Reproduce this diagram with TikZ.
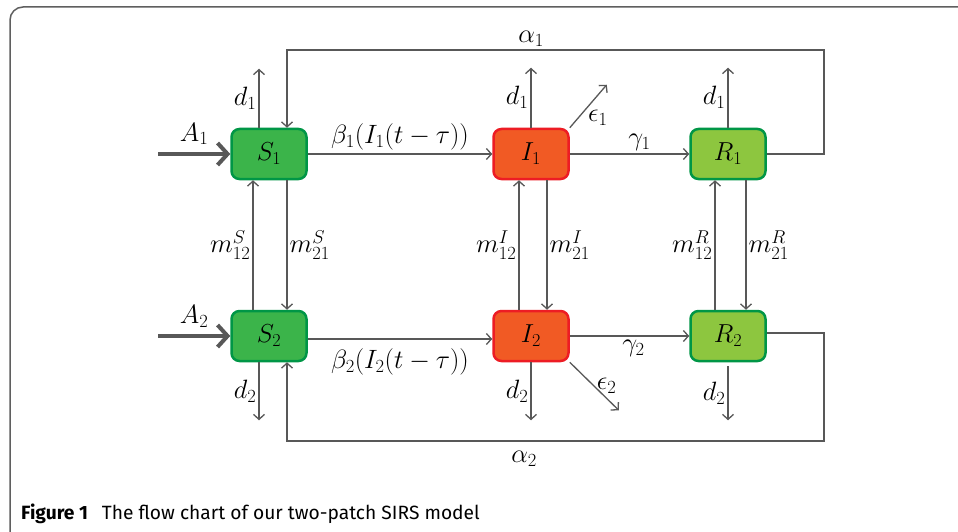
\RequirePackage{fix-cm}
\documentclass[tikz,border=0pt]{standalone}
\usepackage{fontspec}
\newfontfamily\capfont{Fira Sans}
\usetikzlibrary{arrows.meta}
\definecolor{lineGray}{RGB}{88,88,88}
\definecolor{frameGray}{RGB}{95,95,95}
\definecolor{sFill}{RGB}{59,180,74}
\definecolor{sEdge}{RGB}{0,150,70}
\definecolor{iFill}{RGB}{241,90,36}
\definecolor{iEdge}{RGB}{237,28,36}
\definecolor{rFill}{RGB}{141,198,63}

\tikzset{
  box/.style={rounded corners=8pt, line width=2.5pt, minimum width=75pt,
    minimum height=50pt, font=\fontsize{26}{30}\selectfont},
  sbox/.style={box, draw=sEdge, fill=sFill},
  ibox/.style={box, draw=iEdge, fill=iFill},
  rbox/.style={box, draw=sEdge, fill=rFill},
  lbl/.style={font=\fontsize{26.5}{30}\selectfont, inner sep=3pt},
  flow/.style={draw=lineGray, line width=1.3pt, -{Straight Barb[length=5pt,width=11pt]}},
  inflow/.style={draw=lineGray, line width=4pt, -{Straight Barb[length=10pt,width=22pt]}}
}

\begin{document}
\begin{tikzpicture}[x=1pt, y=-1pt]
  \useasboundingbox (0,0) rectangle (958,532);
  \clip (0,0) rectangle (958,532);
  \fill[white] (0,0) rectangle (958,532);
  % frame
  \draw[frameGray, line width=1.5pt, rounded corners=13pt] (980,7) -- (10,7) -- (10,560);

  % compartments
  \node[sbox] (S1) at (269,154) {$S_1$};
  \node[ibox] (I1) at (531,154) {$I_1$};
  \node[rbox] (R1) at (728,154) {$R_1$};
  \node[sbox] (S2) at (269,336) {$S_2$};
  \node[ibox] (I2) at (531,336) {$I_2$};
  \node[rbox] (R2) at (728,336) {$R_2$};

  % recruitment
  \coordinate (A1s) at (158,154);
  \coordinate (A2s) at (158,336);
  \draw[inflow] (A1s) -- (S1.west) node[lbl, midway, above=4pt] {$A_1$};
  \draw[inflow] (A2s) -- (S2.west) node[lbl, midway, above=4pt] {$A_2$};

  % patch 1
  \draw[flow] (S1) -- (I1) node[lbl, midway, above] {$\beta_1(I_1(t-\tau))$};
  \draw[flow] (I1) -- (R1) node[lbl, midway, above, xshift=10pt] {$\gamma_1$};
  \draw[flow] ([xshift=-10pt]S1.north) -- ++(0,-59) node[lbl, midway, left, inner sep=2pt] {$d_1$};
  \draw[flow] (I1.north) -- ++(0,-60) node[lbl, midway, left, inner sep=2pt] {$d_1$};
  \draw[flow] (R1.north) -- ++(0,-60) node[lbl, midway, left, inner sep=2pt] {$d_1$};
  \draw[flow] (I1.north east) -- ++(37,-43) node[lbl, pos=0.45, below right, inner sep=1pt] {$\epsilon_1$};

  % patch 2
  \draw[flow] ([yshift=-3pt]S2.east) -- ([yshift=-3pt]I2.west) node[lbl, midway, below=6pt] {$\beta_2(I_2(t-\tau))$};
  \draw[flow] (I2) -- (R2) node[lbl, midway, below, xshift=4pt] {$\gamma_2$};
  \draw[flow] ([xshift=-10pt]S2.south) -- ++(0,58) node[lbl, midway, left, inner sep=2pt] {$d_2$};
  \draw[flow] (I2.south) -- ++(0,58) node[lbl, midway, left, inner sep=2pt] {$d_2$};
  \draw[flow] ([yshift=-4pt]R2.south) -- ++(0,54) node[lbl, midway, left, inner sep=2pt] {$d_2$};
  \draw[flow] (I2.south east) -- ++(49,48) node[lbl, midway, right, inner sep=2pt] {$\epsilon_2$};

  % migration
  \draw[flow] ([xshift=-16pt]S2.north) -- ([xshift=-16pt]S1.south) node[lbl, midway, left, inner sep=2pt] {$m_{12}^S$};
  \draw[flow] ([xshift=18pt]S1.south) -- ([xshift=18pt]S2.north) node[lbl, midway, right, inner sep=2pt] {$m_{21}^S$};
  \draw[flow] ([xshift=-12pt]I2.north) -- ([xshift=-12pt]I1.south) node[lbl, midway, left, inner sep=2pt] {$m_{12}^I$};
  \draw[flow] ([xshift=16pt]I1.south) -- ([xshift=16pt]I2.north) node[lbl, midway, right, inner sep=2pt] {$m_{21}^I$};
  \draw[flow] ([xshift=-13pt]R2.north) -- ([xshift=-13pt]R1.south) node[lbl, midway, left, inner sep=2pt] {$m_{12}^R$};
  \draw[flow] ([xshift=18pt]R1.south) -- ([xshift=18pt]R2.north) node[lbl, midway, right, inner sep=2pt] {$m_{21}^R$};

  % loss of immunity
  \coordinate (a1c) at (824,50);
  \coordinate (a2c) at (824,441);
  \draw[flow] (R1.east) -| (a1c) -| ([xshift=18pt]S1.north);
  \draw[flow] ([yshift=3pt]R2.east) -| (a2c) -| ([xshift=18pt]S2.south);
  \node[lbl, above] at (a1c -| I1) {$\alpha_1$};
  \node[lbl, below=7pt, xshift=-7pt] at (a2c -| I2) {$\alpha_2$};

  % caption
  \node[anchor=base west, inner sep=0pt, font=\capfont\fontsize{19.2}{22}\selectfont]
    (cap) at (21,519) {\textbf{Figure 1}\hspace{14pt}The flow chart of our two-patch SIRS model};
\end{tikzpicture}
\end{document}
